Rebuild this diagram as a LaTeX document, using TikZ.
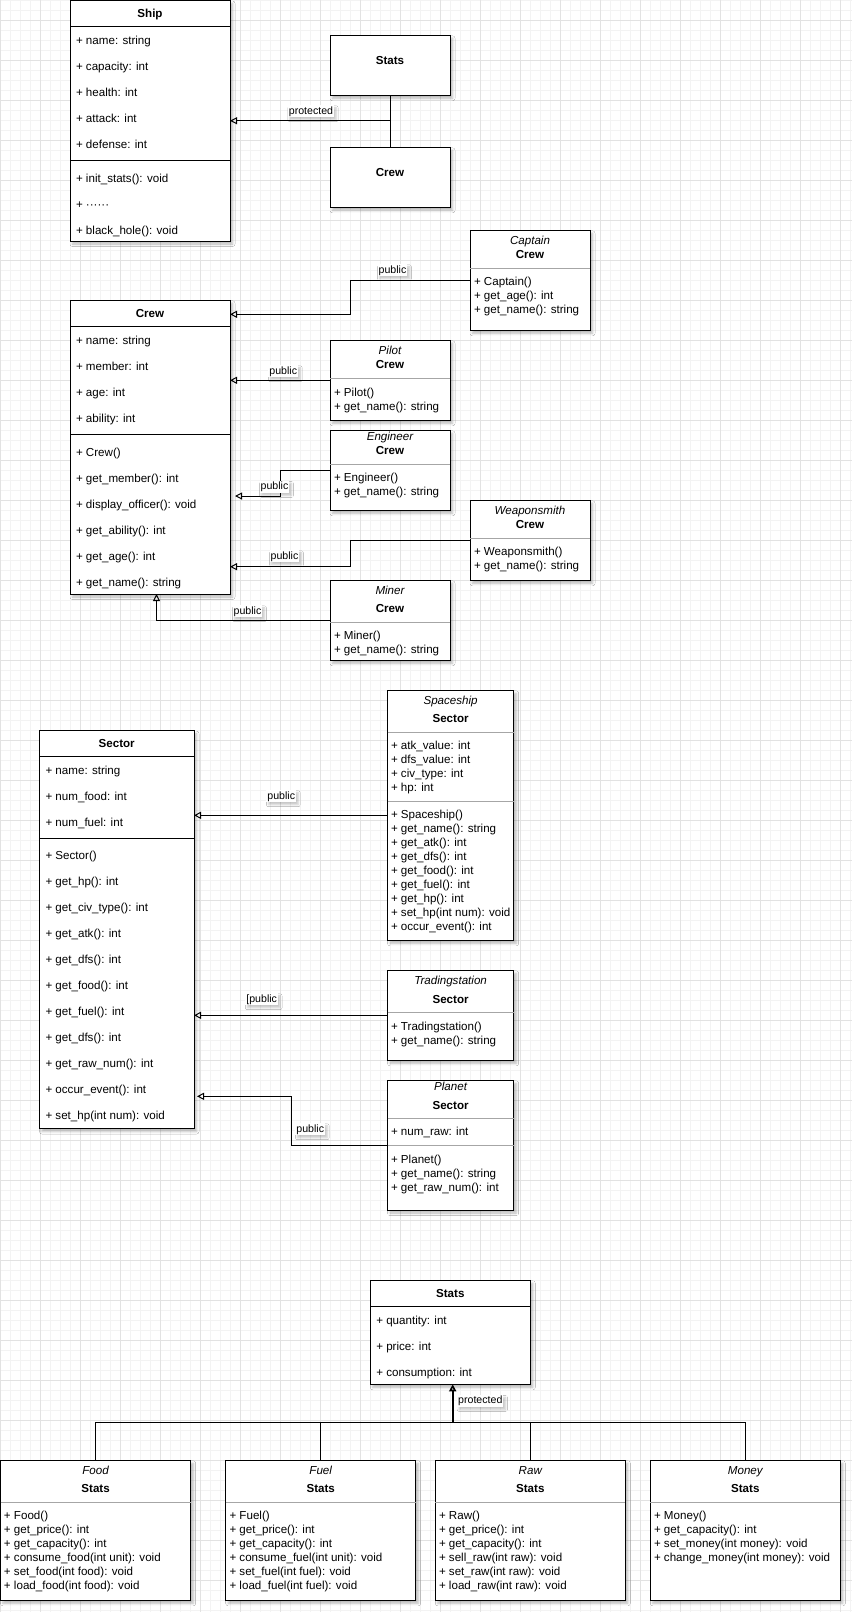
\documentclass[tikz,border=0pt]{standalone}
\usepackage{fontspec}
\setmainfont{Liberation Sans}
\usetikzlibrary{arrows.meta,calc,shadows.blur}

\definecolor{gridminor}{HTML}{F3F3F3}
\definecolor{gridmajor}{HTML}{E2E2E2}
\definecolor{sepgray}{HTML}{A6A6A6}

% a class box given by its corners
\newcommand\umlbox[5]{%
  \node[box, minimum width={(#4-#2)*1pt}, minimum height={(#5-#3)*1pt}]
    (#1) at ({(#2+#4)/2},{(#3+#5)/2}) {};}
% a column of member lines: name, x, first baseline, pitch, list
\newcommand\members[5]{%
  \foreach \t [count=\i from 0] in {#5}
    \node[txt] (#1-\i) at (#2, {#3+#4*\i}) {\t};}

\begin{document}
\begin{tikzpicture}[x=1pt, y=-1pt, line width=1pt,
  font=\fontsize{11.6}{14}\selectfont,
  box/.style={draw=black, fill=white, inner sep=0pt, outer sep=0pt,
    blur shadow={shadow xshift=2.5pt, shadow yshift=-3pt,
      shadow blur radius=2.5pt, shadow opacity=28}},
  txt/.style={inner sep=0pt, anchor=base west},
  ttl/.style={inner sep=0pt, anchor=base, font=\fontsize{11.6}{14}\selectfont\bfseries},
  ital/.style={inner sep=0pt, anchor=base, font=\fontsize{11.6}{14}\selectfont\itshape},
  lbl/.style={inner sep=1pt, anchor=base, fill=white,
    font=\fontsize{10.6}{13}\selectfont,
    blur shadow={shadow xshift=2pt, shadow yshift=-2.5pt,
      shadow blur radius=2pt, shadow opacity=22}},
  inh/.style={-{Triangle[open, length=7pt, width=7pt]}, line width=1pt},
  divider/.style={draw=black, line width=1pt},
  graysep/.style={draw=sepgray, line width=1pt}]

% page and background grid
\useasboundingbox (0,0) rectangle (852,1612);
\fill[white] (0,0) rectangle (852,1612);
\foreach \x in {0,10,...,850} \draw[gridminor] (\x,0) -- (\x,1612);
\foreach \y in {0,10,...,1610} \draw[gridminor] (0,\y) -- (852,\y);
\foreach \x in {0,40,...,840} \draw[gridmajor] (\x,0) -- (\x,1612);
\foreach \y in {20,60,...,1600} \draw[gridmajor] (0,\y) -- (852,\y);

% ---------- Ship ----------
\umlbox{ship}{70}{0.5}{230}{241}
\node[ttl] (ship-t) at (150,17.7) {Ship};
\draw[divider] (70,26.3) -- (230,26.3);
\members{ship-a}{75.5}{44}{26}{+ name: string,+ capacity: int,+ health: int,+ attack: int,+ defense: int}
\draw[divider] (70,160) -- (230,160);
\members{ship-m}{75.5}{182}{26}{+ init\_stats(): void,+ ······,+ black\_hole(): void}

\umlbox{statsTop}{330}{35.3}{450}{95.3}
\node[ttl] (statsTop-t) at (390,64) {Stats};
\umlbox{crewTop}{330}{147.3}{450}{207.3}
\node[ttl] (crewTop-t) at (390,176) {Crew};

% ---------- Crew ----------
\umlbox{crew}{70}{300.3}{230}{594}
\node[ttl] (crew-t) at (150,317.7) {Crew};
\draw[divider] (70,326.3) -- (230,326.3);
\members{crew-a}{75.5}{344}{26}{+ name: string,+ member: int,+ age: int,+ ability: int}
\draw[divider] (70,434.3) -- (230,434.3);
\members{crew-m}{75.5}{456}{26}{+ Crew(),+ get\_member(): int,+ display\_officer(): void,+ get\_ability(): int,+ get\_age(): int,+ get\_name(): string}

\umlbox{captain}{470}{230.3}{590}{330.3}
\node[ital] (captain-i) at (530,244.7) {Captain};
\node[ttl] (captain-t) at (530,258.7) {Crew};
\draw[graysep] (470,268.3) -- (590,268.3);
\members{captain-m}{473.5}{285.7}{14}{+ Captain(),+ get\_age(): int,+ get\_name(): string}

\umlbox{pilot}{330}{340.3}{450}{420.3}
\node[ital] (pilot-i) at (390,354.7) {Pilot};
\node[ttl] (pilot-t) at (390,368.7) {Crew};
\draw[graysep] (330,378.3) -- (450,378.3);
\members{pilot-m}{333.5}{396}{14}{+ Pilot(),+ get\_name(): string}

\umlbox{engineer}{330}{430.3}{450}{510.3}
\node[ital] (engineer-i) at (390,440.7) {Engineer};
\node[ttl] (engineer-t) at (390,454.7) {Crew};
\draw[graysep] (330,464.3) -- (450,464.3);
\members{engineer-m}{333.5}{481.7}{14}{+ Engineer(),+ get\_name(): string}

\umlbox{weaponsmith}{470}{500.3}{590}{580.3}
\node[ital] (weaponsmith-i) at (530,514.7) {Weaponsmith};
\node[ttl] (weaponsmith-t) at (530,528.7) {Crew};
\draw[graysep] (470,538.3) -- (590,538.3);
\members{weaponsmith-m}{473.5}{555.7}{14}{+ Weaponsmith(),+ get\_name(): string}

\umlbox{miner}{330}{580.3}{450}{660.3}
\node[ital] (miner-i) at (390,594.7) {Miner};
\node[ttl] (miner-t) at (390,612.7) {Crew};
\draw[graysep] (330,622.3) -- (450,622.3);
\members{miner-m}{333.5}{639.7}{14}{+ Miner(),+ get\_name(): string}

% ---------- Sector ----------
\umlbox{sector}{39.5}{730.7}{194}{1128.5}
\node[ttl] (sector-t) at (116.7,747.7) {Sector};
\draw[divider] (39.5,756.5) -- (194,756.5);
\members{sector-a}{45}{774}{26}{+ name: string,+ num\_food: int,+ num\_fuel: int}
\draw[divider] (39.5,838.5) -- (194,838.5);
\members{sector-m}{45}{859.7}{26}{+ Sector(),+ get\_hp(): int,+ get\_civ\_type(): int,+ get\_atk(): int,+ get\_dfs(): int,+ get\_food(): int,+ get\_fuel(): int,+ get\_dfs(): int,+ get\_raw\_num(): int,+ occur\_event(): int,+ set\_hp(int num): void}

\umlbox{spaceship}{387.5}{690.3}{513.7}{940.3}
\node[ital] (spaceship-i) at (450.6,704.7) {Spaceship};
\node[ttl] (spaceship-t) at (450.6,722.7) {Sector};
\draw[graysep] (387.5,732.3) -- (513.7,732.3);
\members{spaceship-a}{390.5}{749.7}{14}{+ atk\_value: int,+ dfs\_value: int,+ civ\_type: int,+ hp: int}
\draw[graysep] (387.5,801.3) -- (513.7,801.3);
\members{spaceship-m}{390.5}{818.7}{14}{+ Spaceship(),+ get\_name(): string,+ get\_atk(): int,+ get\_dfs(): int,+ get\_food(): int,+ get\_fuel(): int,+ get\_hp(): int,+ set\_hp(int num): void,+ occur\_event(): int}

\umlbox{trading}{387.5}{970.3}{513.7}{1060.3}
\node[ital] (trading-i) at (450.6,984.7) {Tradingstation};
\node[ttl] (trading-t) at (450.6,1003) {Sector};
\draw[graysep] (387.5,1012.3) -- (513.7,1012.3);
\members{trading-m}{390.5}{1030}{14}{+ Tradingstation(),+ get\_name(): string}

\umlbox{planet}{387.5}{1080.3}{513.7}{1210}
\node[ital] (planet-i) at (450.6,1090.3) {Planet};
\node[ttl] (planet-t) at (450.6,1109) {Sector};
\draw[graysep] (387.5,1118.3) -- (513.7,1118.3);
\members{planet-a}{390.5}{1135.7}{14}{+ num\_raw: int}
\draw[graysep] (387.5,1145.3) -- (513.7,1145.3);
\members{planet-m}{390.5}{1163}{14}{+ Planet(),+ get\_name(): string,+ get\_raw\_num(): int}

% ---------- Stats ----------
\umlbox{statsB}{370.3}{1280.3}{530.3}{1384.3}
\node[ttl] (statsB-t) at (450.3,1297.7) {Stats};
\draw[divider] (370.3,1306.3) -- (530.3,1306.3);
\members{statsB-a}{375.8}{1324}{26}{+ quantity: int,+ price: int,+ consumption: int}

\umlbox{food}{0.5}{1460.3}{190.7}{1600.3}
\node[ital] (food-i) at (95.6,1474.7) {Food};
\node[ttl] (food-t) at (95.6,1492.7) {Stats};
\draw[graysep] (0.5,1502.3) -- (190.7,1502.3);
\members{food-m}{3.5}{1519.7}{14}{+ Food(),+ get\_price(): int,+ get\_capacity(): int,+ consume\_food(int unit): void,+ set\_food(int food): void,+ load\_food(int food): void}

\umlbox{fuel}{225.7}{1460.3}{415.7}{1600.3}
\node[ital] (fuel-i) at (320.7,1474.7) {Fuel};
\node[ttl] (fuel-t) at (320.7,1492.7) {Stats};
\draw[graysep] (225.7,1502.3) -- (415.7,1502.3);
\members{fuel-m}{229}{1519.7}{14}{+ Fuel(),+ get\_price(): int,+ get\_capacity(): int,+ consume\_fuel(int unit): void,+ set\_fuel(int fuel): void,+ load\_fuel(int fuel): void}

\umlbox{raw}{435.3}{1460.3}{625.3}{1600.3}
\node[ital] (raw-i) at (530.3,1474.7) {Raw};
\node[ttl] (raw-t) at (530.3,1492.7) {Stats};
\draw[graysep] (435.3,1502.3) -- (625.3,1502.3);
\members{raw-m}{438.5}{1519.7}{14}{+ Raw(),+ get\_price(): int,+ get\_capacity(): int,+ sell\_raw(int raw): void,+ set\_raw(int raw): void,+ load\_raw(int raw): void}

\umlbox{money}{650.3}{1460.3}{840.3}{1600.3}
\node[ital] (money-i) at (745.3,1474.7) {Money};
\node[ttl] (money-t) at (745.3,1492.7) {Stats};
\draw[graysep] (650.3,1502.3) -- (840.3,1502.3);
\members{money-m}{653.5}{1519.7}{14}{+ Money(),+ get\_capacity(): int,+ set\_money(int money): void,+ change\_money(int money): void}

% ---------- inheritance connectors ----------
\draw (statsTop.south) -- (crewTop.north);
\draw[inh] (statsTop.south |- ship.east) -- (ship.east);

\draw[inh] (captain.west) -- ++(-120,0) |- ($(crew.north east)+(0,14)$);
\draw[inh] (pilot.west) -- (crew.east |- pilot.west);
\draw[inh] (engineer.west) -- ++(-50,0) |- ($(crew.north east)+(5,195.7)$);
\draw[inh] (weaponsmith.west) -- ++(-120,0) |- ($(crew.north east)+(0,266.4)$);
\draw[inh] (miner.west) -| ($(crew.south west)+(86.5,0)$);

\draw[inh] (spaceship.west) -- (sector.east |- spaceship.west);
\draw[inh] (trading.west) -- (sector.east |- trading.west);
\draw[inh] (planet.west) -- ++(-96.5,0) |- ($(sector.north east)+(3,365.6)$);

\coordinate (hub) at ($(statsB.south west)+(82.4,38)$);
\draw (food.north) |- (hub);
\draw (fuel.north) |- (hub);
\draw (raw.north) |- (hub);
\draw (money.north) |- (hub);
\draw[inh, line width=1.6pt] (hub) -- (hub |- statsB.south);

% ---------- connector labels ----------
\node[lbl] (l-ship) at (311,114) {protected};
\node[lbl] (l-captain) at (392.5,273) {public};
\node[lbl] (l-pilot) at (283.3,374) {public};
\node[lbl] (l-engineer) at (274.5,489.7) {public};
\node[lbl] (l-weaponsmith) at (284.5,559) {public};
\node[lbl] (l-miner) at (247.5,614) {public};
\node[lbl] (l-spaceship) at (281.3,799) {public};
\node[lbl] (l-trading) at (261.7,1002) {[public};
\node[lbl] (l-planet) at (310.3,1132) {public};
\node[lbl] (l-stats) at (480.3,1403.7) {protected};

\end{tikzpicture}
\end{document}
